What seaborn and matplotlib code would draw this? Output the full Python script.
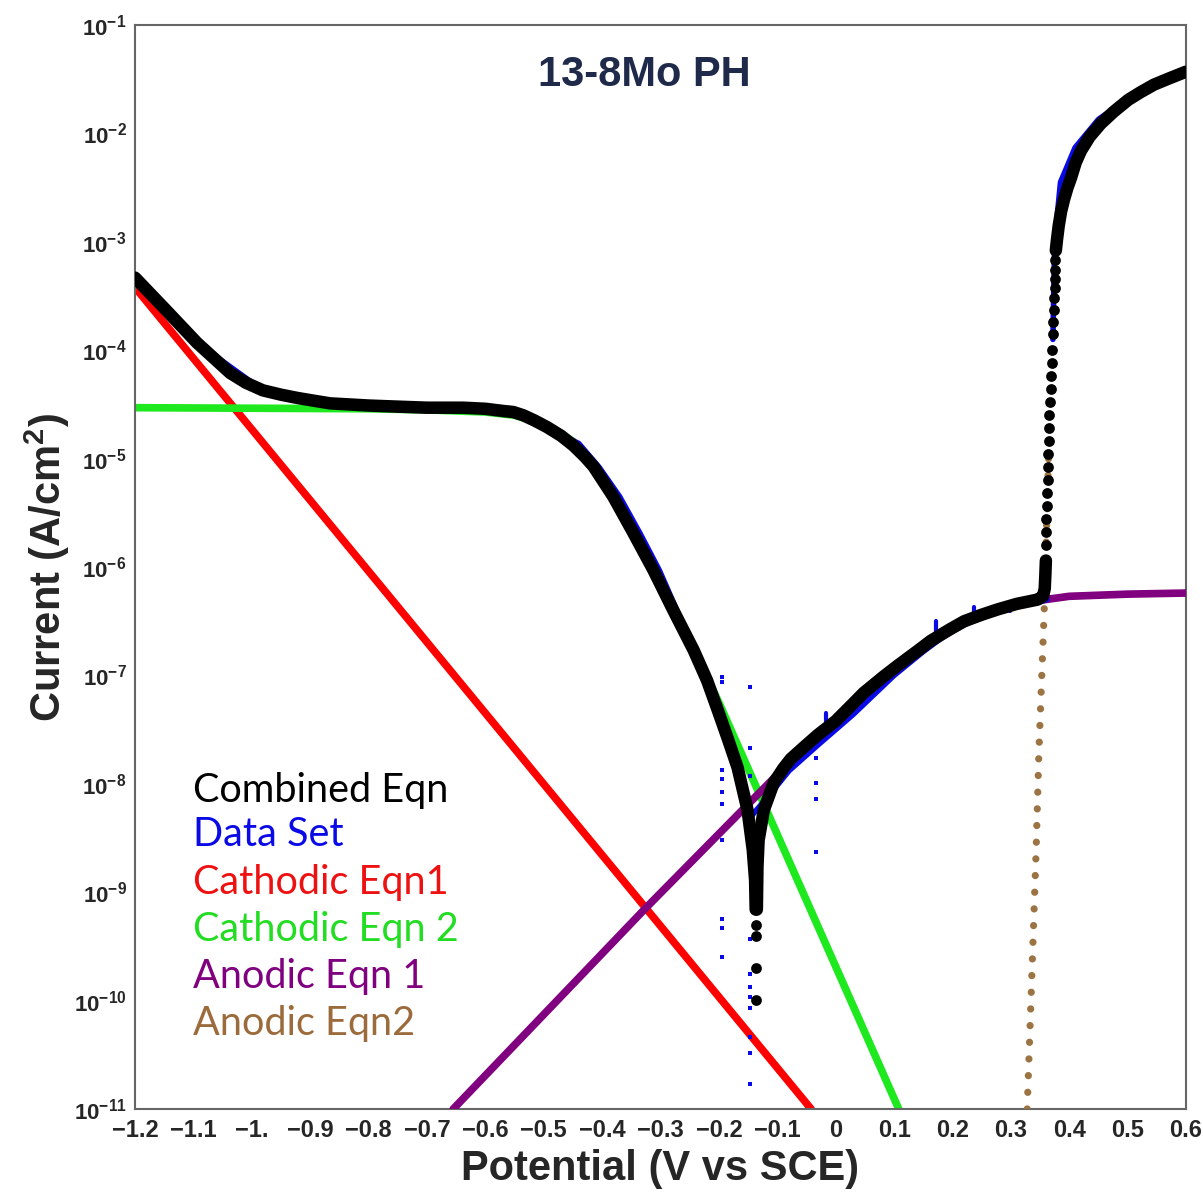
import numpy as np
import pandas as pd
import matplotlib
matplotlib.use("Agg")
import matplotlib.pyplot as plt
import seaborn as sns

# values: potential (V vs SCE) and log10 of current (A/cm2)

# combined equation, smooth parts (drawn as thick line)
comb_left_v = [-1.2, -1.152, -1.094, -1.037, -1.01, -0.981, -0.95, -0.922, -0.9, -0.866, -0.8, -0.751,
               -0.7, -0.638, -0.6, -0.57, -0.552, -0.535, -0.515, -0.494, -0.47, -0.449, -0.43, -0.415,
               -0.381, -0.346, -0.312, -0.278, -0.243, -0.22, -0.202, -0.185, -0.168, -0.151, -0.142,
               -0.138, -0.137]
comb_left_logi = [-3.33, -3.60, -3.93, -4.21, -4.30, -4.37, -4.41, -4.44, -4.46, -4.49, -4.51, -4.52,
                  -4.53, -4.53, -4.54, -4.56, -4.57, -4.60, -4.65, -4.71, -4.79, -4.88, -4.98, -5.07,
                  -5.35, -5.69, -6.03, -6.40, -6.77, -7.05, -7.32, -7.58, -7.85, -8.24, -8.61,
                  -8.89, -9.16]
comb_right_v = [-0.135, -0.134, -0.132, -0.123, -0.106, -0.09, -0.077, -0.05, -0.031, 0.0, 0.026,
                0.048, 0.082, 0.106, 0.141, 0.163, 0.197, 0.220, 0.25, 0.278, 0.31, 0.346, 0.355,
                0.358, 0.359, 0.360]
comb_right_logi = [-9.16, -8.77, -8.52, -8.24, -7.99, -7.86, -7.77, -7.64, -7.55, -7.42, -7.28,
                   -7.16, -7.01, -6.91, -6.77, -6.68, -6.57, -6.50, -6.44, -6.39, -6.34, -6.30, -6.27,
                   -6.20, -6.08, -5.94]
comb_top_v = [0.377, 0.379, 0.382, 0.386, 0.391, 0.397, 0.403, 0.411, 0.420, 0.435, 0.454, 0.476,
              0.501, 0.522, 0.545, 0.572, 0.6]
comb_top_logi = [-3.08, -2.98, -2.85, -2.72, -2.61, -2.50, -2.41, -2.27, -2.16, -2.03, -1.91, -1.80,
                 -1.69, -1.62, -1.55, -1.49, -1.43]

# combined equation, single dots where the curve is steep
dip_v = [-0.137, -0.137, -0.136, -0.136]
dip_logi = [-9.30, -9.40, -9.70, -9.99]
rise_v = [0.360, 0.361, 0.361, 0.362, 0.362, 0.363, 0.363, 0.364, 0.365, 0.365, 0.366, 0.367,
          0.368, 0.369, 0.370, 0.371, 0.372, 0.373, 0.374, 0.374, 0.375, 0.375, 0.376, 0.376]
rise_logi = [-5.80, -5.68, -5.56, -5.44, -5.32, -5.20, -5.08, -4.96, -4.84, -4.72, -4.60, -4.48,
             -4.36, -4.24, -4.12, -4.00, -3.85, -3.74, -3.63, -3.52, -3.43, -3.34, -3.26, -3.17]

# measured data set
data_v = [-1.2, -1.094, -0.981, -0.866, -0.751, -0.638, -0.552, -0.494, -0.44, -0.405, -0.37,
          -0.335, -0.302, -0.272, -0.245, -0.21, -0.18, -0.16, -0.149, -0.14, -0.11, -0.08,
          -0.03, 0.03, 0.1, 0.15, 0.2, 0.25, 0.3, 0.35, 0.362]
data_logi = [-3.33, -3.93, -4.37, -4.49, -4.52, -4.53, -4.57, -4.72, -4.86, -5.08, -5.35,
             -5.69, -6.03, -6.40, -6.77, -7.20, -7.62, -8.00, -8.33, -8.27, -8.08, -7.88,
             -7.64, -7.36, -7.00, -6.78, -6.58, -6.46, -6.37, -6.32, -6.30]
data_top_v = [0.372, 0.375, 0.385, 0.41, 0.45, 0.5, 0.6]
data_top_logi = [-3.90, -3.00, -2.45, -2.13, -1.87, -1.68, -1.43]
spike_v = [0.171, 0.237, 0.298, -0.017]
spike_lo = [-6.64, -6.50, -6.41, -7.42]
spike_hi = [-6.50, -6.37, -6.33, -7.35]
stray_v = [-0.195, -0.195, -0.147, -0.147, -0.195, -0.195, -0.195, -0.195, -0.195, -0.147,
           -0.033, -0.033, -0.033, -0.033, -0.195, -0.195, -0.195, -0.147, -0.147, -0.147,
           -0.147, -0.147, -0.147, -0.147, -0.147]
stray_logi = [-7.01, -7.06, -7.11, -7.67, -7.87, -7.96, -8.08, -8.19, -8.52, -7.93,
              -7.76, -7.99, -8.14, -8.63, -9.25, -9.33, -9.60, -9.43, -9.75, -9.87,
              -9.97, -10.07, -10.34, -10.48, -10.77]

# fitted equations
cath1_v = [-1.2, -0.042]
cath1_logi = [-3.42, -11.0]
cath2_v = [-1.2, -0.8, -0.7, -0.6, -0.55, -0.5, -0.45, -0.415, -0.381, -0.346, -0.312, -0.278,
           -0.243, -0.2, 0.108]
cath2_logi = [-4.53, -4.54, -4.55, -4.57, -4.60, -4.68, -4.84, -5.06, -5.34, -5.67, -6.01, -6.38,
              -6.76, -7.25, -11.0]
anod1_v = [-0.655, -0.326, -0.077, -0.031, 0.048, 0.106, 0.163, 0.22, 0.278, 0.346, 0.40, 0.5, 0.6]
anod1_logi = [-11.0, -9.15, -7.79, -7.57, -7.17, -6.92, -6.70, -6.52, -6.40, -6.31, -6.27, -6.25, -6.24]
anod2_v = [0.328, 0.343, 0.348, 0.357, 0.365]
anod2_logi = [-11.0, -8.66, -7.71, -6.42, -4.90]

legend_labels = ["Combined Eqn", "Data Set", "Cathodic Eqn1", "Cathodic Eqn 2", "Anodic Eqn 1", "Anodic Eqn2"]
legend_colors = ["#000000", "#0a0ae6", "#ee1111", "#22dd22", "#800080", "#9c6b3c"]

x_ticks = [-1.2, -1.1, -1.0, -0.9, -0.8, -0.7, -0.6, -0.5, -0.4, -0.3, -0.2, -0.1, 0, 0.1, 0.2, 0.3, 0.4, 0.5, 0.6]
x_ticklabels = ["\u22121.2", "\u22121.1", "\u22121.", "\u22120.9", "\u22120.8", "\u22120.7", "\u22120.6",
                "\u22120.5", "\u22120.4", "\u22120.3", "\u22120.2", "\u22120.1", "0", "0.1", "0.2",
                "0.3", "0.4", "0.5", "0.6"]
y_exps = [-1, -2, -3, -4, -5, -6, -7, -8, -9, -10, -11]


def frame(v, logi):
    return pd.DataFrame({"v": v, "i": 10.0 ** np.array(logi)})


sns.set_theme(style="white")
plt.rcParams["font.family"] = ["Liberation Sans", "DejaVu Sans"]
plt.rcParams["mathtext.fontset"] = "custom"
plt.rcParams["mathtext.rm"] = "Liberation Sans:bold"
plt.rcParams["mathtext.bf"] = "Liberation Sans:bold"
plt.rcParams["mathtext.it"] = "Liberation Sans:bold"

fig = plt.figure(figsize=(12.03, 11.93), dpi=100)
ax = fig.add_axes([0.1122, 0.0704, 0.8737, 0.9086])

line_kw = dict(ax=ax, x="v", y="i", sort=False, estimator=None, legend=False)

# fitted equations
sns.lineplot(data=frame(cath1_v, cath1_logi), color="#ff0000", lw=5.5, zorder=2, **line_kw)
sns.lineplot(data=frame(cath2_v, cath2_logi), color="#1ee81e", lw=5.5, zorder=2,
             solid_joinstyle="round", **line_kw)
sns.lineplot(data=frame(anod1_v, anod1_logi), color="#800080", lw=5.5, zorder=3,
             solid_joinstyle="round", **line_kw)
sns.lineplot(data=frame(anod2_v, anod2_logi), color="#9c7443", lw=5.2, zorder=3,
             linestyle=(0, (0.01, 2.3)), dash_capstyle="round", **line_kw)

# data set
sns.lineplot(data=frame(data_v, data_logi), color="#0a0ae6", lw=4, zorder=4,
             solid_joinstyle="round", **line_kw)
sns.lineplot(data=frame(data_top_v, data_top_logi), color="#0a0ae6", lw=4, zorder=4,
             solid_joinstyle="round", **line_kw)
for sv, lo, hi in zip(spike_v, spike_lo, spike_hi):
    ax.plot([sv, sv], [10.0 ** lo, 10.0 ** hi], color="#0a0ae6", lw=3, zorder=4)
sns.scatterplot(data=frame(stray_v, stray_logi), x="v", y="i", ax=ax, color="#0a0ae6",
                marker="s", s=10, linewidth=0, zorder=4, legend=False)

# combined equation
for v, li in [(comb_left_v, comb_left_logi), (comb_right_v, comb_right_logi), (comb_top_v, comb_top_logi)]:
    sns.lineplot(data=frame(v, li), color="black", lw=9, zorder=5,
                 solid_capstyle="round", solid_joinstyle="round", **line_kw)
sns.scatterplot(data=frame(dip_v + rise_v, dip_logi + rise_logi), x="v", y="i", ax=ax,
                color="black", s=60, linewidth=0, zorder=5, legend=False)

ax.set_yscale("log")
ax.set_xlim(-1.2, 0.6)
ax.set_ylim(1e-11, 1e-1)
ax.set_xticks(x_ticks)
ax.set_xticklabels(x_ticklabels, fontsize=17, fontweight="bold")
ax.set_yticks([10.0 ** e for e in y_exps])
ax.set_yticklabels([r"$\mathbf{10^{%d}}$" % e for e in y_exps], fontsize=16)
ax.yaxis.set_minor_locator(matplotlib.ticker.NullLocator())
ax.tick_params(axis="both", direction="in", length=6, width=1, color="#888888")
ax.tick_params(axis="x", pad=7)
ax.tick_params(axis="y", pad=6)
for sp in ax.spines.values():
    sp.set_color("#666666")
    sp.set_linewidth(1.5)

ax.set_xlabel("Potential (V vs SCE)", fontsize=30, fontweight="bold", labelpad=5)
ax.set_ylabel("Current (A/cm$^{2}$)", fontsize=30, fontweight="bold", labelpad=1)

ax.text(0.485, 0.954, "13-8Mo PH", transform=ax.transAxes, ha="center", va="center",
        fontsize=30, fontweight="bold", color="#1f2a4a")

legend_y = [0.294, 0.253, 0.209, 0.166, 0.122, 0.079]
for lab, col, yy in zip(legend_labels, legend_colors, legend_y):
    ax.text(0.055, yy, lab, transform=ax.transAxes, ha="left", va="center",
            fontsize=28.5, color=col, family=["Lato", "DejaVu Sans"])

fig.savefig("out.png", dpi=100)
